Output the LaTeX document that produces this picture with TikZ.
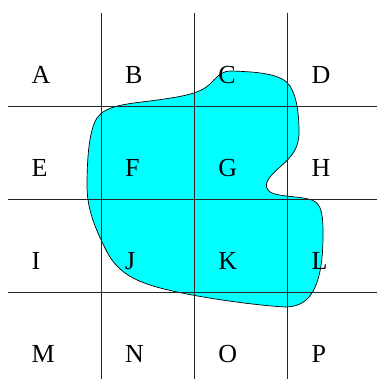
\documentclass[tikz,border=0pt]{standalone}
\usepackage{fontspec}
\setmainfont{Liberation Serif}
\definecolor{blobcyan}{RGB}{0,255,255}
\begin{document}
\begin{tikzpicture}[x=1pt,y=-1pt,
  gridline/.style={draw=black!85,line width=0.8pt},
  blob/.style={fill=blobcyan,draw=black,line width=0.7pt},
  cellabel/.style={anchor=base west,inner sep=0pt,font=\fontsize{26}{26}\selectfont}]
\useasboundingbox (0,0) rectangle (377,379);
\path[blob] (232,71) .. controls (260,72) and (282,74) .. (290,86)
 .. controls (297,97) and (299,115) .. (299,132)
 .. controls (299,150) and (290,158) .. (280,167)
 .. controls (268,177) and (262,186) .. (270,192)
 .. controls (278,197) and (300,196) .. (312,200)
 .. controls (322,204) and (323,215) .. (323,235)
 .. controls (323,260) and (320,280) .. (312,293)
 .. controls (305,304) and (295,307) .. (285,307)
 .. controls (250,305) and (180,295) .. (150,285)
 .. controls (125,277) and (113,265) .. (105,248)
 .. controls (92,222) and (87,205) .. (87,185)
 .. controls (87,160) and (89,130) .. (97,118)
 .. controls (105,106) and (125,104) .. (150,101)
 .. controls (180,97) and (200,94) .. (210,84)
 .. controls (220,74) and (222,71) .. (232,71) -- cycle;
\foreach \x in {101,194.3,287.5} \draw[gridline] (\x,12.7) -- (\x,379);
\foreach \y in {106,199,292} \draw[gridline] (8,\y) -- (377,\y);
\foreach \t [count=\i from 0] in {A,B,C,D,E,F,G,H,I,J,K,L,M,N,O,P}{
  \pgfmathtruncatemacro{\c}{mod(\i,4)}
  \pgfmathtruncatemacro{\r}{div(\i,4)}
  \node[cellabel] (\t) at ({31.5+93.3*\c},{83.3+93*\r}) {\t};
}
\end{tikzpicture}
\end{document}
